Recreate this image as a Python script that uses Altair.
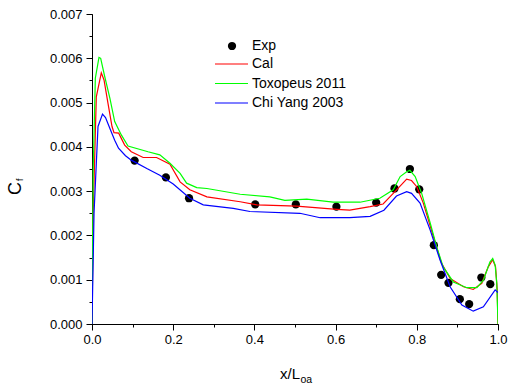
import altair as alt
import pandas as pd

# ---------------- data ----------------
exp_x = [0.105, 0.182, 0.239, 0.402, 0.502, 0.602, 0.700, 0.745, 0.783, 0.806,
         0.842, 0.860, 0.878, 0.906, 0.929, 0.959, 0.981]
exp_cf = [0.00369, 0.00331, 0.00284, 0.00270, 0.00270, 0.00265, 0.00274, 0.00306,
          0.00350, 0.00304, 0.00178, 0.00111, 0.00093, 0.00056, 0.00045, 0.00105, 0.00090]

cal_x = [0.0, 0.003, 0.0106, 0.0229, 0.0296, 0.0394, 0.0493, 0.0542, 0.0658, 0.0805,
         0.0968, 0.126, 0.159, 0.192, 0.217, 0.241, 0.283, 0.365, 0.406, 0.504,
         0.603, 0.635, 0.685, 0.717, 0.742, 0.775, 0.787, 0.800, 0.816, 0.841,
         0.861, 0.882, 0.915, 0.939, 0.960, 0.976, 0.987, 0.994, 0.998, 1.0]
cal_cf = [0.0, 0.0025, 0.00513, 0.00567, 0.00551, 0.00498, 0.00446, 0.00432, 0.00431, 0.00404,
          0.00389, 0.00376, 0.00376, 0.00361, 0.00321, 0.00303, 0.00287, 0.00276, 0.00269, 0.00266,
          0.00259, 0.00257, 0.00265, 0.00271, 0.00295, 0.00327, 0.00324, 0.00310, 0.00273, 0.00197,
          0.00137, 0.00103, 0.00084, 0.00078, 0.00092, 0.00129, 0.00145, 0.00129, 0.00077, 0.0]

tox_x = [0.0, 0.003, 0.0082, 0.0172, 0.0214, 0.031, 0.044, 0.0559, 0.0722, 0.0887,
         0.138, 0.167, 0.192, 0.217, 0.233, 0.258, 0.283, 0.365, 0.438, 0.475,
         0.529, 0.594, 0.660, 0.709, 0.742, 0.759, 0.775, 0.783, 0.796, 0.812,
         0.833, 0.849, 0.865, 0.890, 0.923, 0.948, 0.964, 0.980, 0.987, 0.993, 0.997, 1.0]
tox_cf = [0.0, 0.0035, 0.00555, 0.00602, 0.00600, 0.00560, 0.00510, 0.00457, 0.00427, 0.00402,
          0.00389, 0.00382, 0.00363, 0.00340, 0.00318, 0.00308, 0.00306, 0.00293, 0.00287, 0.00279,
          0.00282, 0.00275, 0.00275, 0.00284, 0.00303, 0.00333, 0.00344, 0.00347, 0.00333, 0.00295,
          0.00228, 0.00174, 0.00129, 0.00095, 0.00082, 0.00082, 0.00099, 0.00140, 0.00148, 0.00133, 0.00092, 0.0]

chi_x = [0.0, 0.005, 0.0148, 0.0259, 0.0333, 0.0456, 0.0559, 0.0653, 0.0825, 0.0968,
         0.135, 0.167, 0.200, 0.241, 0.274, 0.348, 0.389, 0.512, 0.562, 0.635,
         0.685, 0.719, 0.750, 0.775, 0.787, 0.808, 0.833, 0.857, 0.882, 0.911,
         0.939, 0.964, 0.993, 1.0]
chi_cf = [0.0, 0.0025, 0.00446, 0.00474, 0.00466, 0.00438, 0.00415, 0.00397, 0.00380, 0.00370,
          0.00351, 0.00336, 0.00316, 0.00284, 0.00269, 0.00261, 0.00254, 0.00250, 0.00240, 0.00240,
          0.00243, 0.00257, 0.00289, 0.00299, 0.00295, 0.00273, 0.00212, 0.00145, 0.00084, 0.00043,
          0.00029, 0.00039, 0.00077, 0.00071]

series_names = ["Cal", "Toxopeus 2011", "Chi Yang 2003"]
series_colors = ["#ff0000", "#00ff00", "#0000ff"]
x_major = [0.0, 0.2, 0.4, 0.6, 0.8, 1.0]
x_minor = [0.0, 0.1, 0.2, 0.3, 0.4, 0.5, 0.6, 0.7, 0.8, 0.9, 1.0]
y_major = [0.000, 0.001, 0.002, 0.003, 0.004, 0.005, 0.006, 0.007]
y_minor = [i * 0.0005 for i in range(15)]

FONT = "Liberation Sans"

# ---------------- frames ----------------
exp_df = pd.DataFrame({"x": exp_x, "cf": exp_cf})
rows = []
for name, xs, ys in [("Cal", cal_x, cal_cf), ("Toxopeus 2011", tox_x, tox_cf), ("Chi Yang 2003", chi_x, chi_cf)]:
    for i, (a, b) in enumerate(zip(xs, ys)):
        rows.append({"series": name, "x": a, "cf": b, "i": i})
lines_df = pd.DataFrame(rows)

xscale = alt.Scale(domain=[0, 1], nice=False, zero=False)
yscale = alt.Scale(domain=[0, 0.007], nice=False)

major_x_axis = alt.Axis(values=x_major, format=".1f", orient="bottom", title=None, grid=False,
                        tickSize=6, labelPadding=3, labelFontSize=13, labelFont=FONT,
                        labelColor="#000", domainColor="#000", tickColor="#000",
                        labelFlush=False, labelOverlap=False)
major_y_axis = alt.Axis(values=y_major, format=".3f", orient="left", title=None, grid=False,
                        tickSize=6, labelPadding=4, labelFontSize=13, labelFont=FONT,
                        labelColor="#000", domainColor="#000", tickColor="#000",
                        labelFlush=False, labelOverlap=False)
minor_x_axis = alt.Axis(values=x_minor, orient="bottom", title=None, grid=False, labels=False,
                        domain=False, tickSize=3, tickColor="#000")
minor_y_axis = alt.Axis(values=y_minor, orient="left", title=None, grid=False, labels=False,
                        domain=False, tickSize=3, tickColor="#000")

lines = alt.Chart(lines_df).mark_line(strokeWidth=1.2, clip=True).encode(
    x=alt.X("x:Q", scale=xscale, axis=major_x_axis),
    y=alt.Y("cf:Q", scale=yscale, axis=major_y_axis),
    color=alt.Color("series:N", scale=alt.Scale(domain=series_names, range=series_colors), legend=None),
    detail="series:N",
    order="i:Q",
)

points = alt.Chart(exp_df).mark_circle(size=68, color="#000", opacity=1).encode(
    x=alt.X("x:Q", scale=xscale, axis=minor_x_axis),
    y=alt.Y("cf:Q", scale=yscale, axis=minor_y_axis),
)

one = pd.DataFrame({"k": [0]})

def txt(s, x, y, size, angle=0, align="left", baseline="middle"):
    return alt.Chart(one).mark_text(text=s, font=FONT, fontSize=size, color="#000",
                                    align=align, baseline=baseline, angle=angle).encode(
        x=alt.value(x), y=alt.value(y))

# legend (manual)
legend_y = [46, 64, 83.5, 103]
leg = [
    alt.Chart(one).mark_circle(size=68, color="#000", opacity=1).encode(x=alt.value(232 - 92), y=alt.value(legend_y[0] - 14)),
    txt("Exp", 252 - 92, legend_y[0] - 14, 14),
]
for k, (name, col) in enumerate(zip(series_names, series_colors)):
    yy = legend_y[k + 1] - 14
    leg.append(alt.Chart(one).mark_rule(color=col, strokeWidth=1.2).encode(
        x=alt.value(215 - 92), x2=alt.value(248 - 92), y=alt.value(yy)))
    leg.append(txt(name, 252 - 92, yy, 14))

titles = [
    txt("x/L", 300 - 92, 379 - 14, 15, align="right", baseline="alphabetic"),
    txt("oa", 300.5 - 92, 383 - 14, 10.5, align="left", baseline="alphabetic"),
    txt("C", 21 - 92, 195 - 14, 18, angle=270, align="left", baseline="alphabetic"),
    txt("f", 23 - 92, 181 - 14, 9, angle=270, align="left", baseline="alphabetic"),
]

chart = alt.layer(points, lines, *leg, *titles).resolve_axis(
    x="independent", y="independent"
).properties(
    width=406, height=310,
    padding={"left": 92, "top": 14, "right": 13, "bottom": 63},
    autosize=alt.AutoSizeParams(type="none"),
    background="white",
).configure_view(stroke=None)

chart.save("out.html", embed_options={"renderer": "svg", "actions": False})
